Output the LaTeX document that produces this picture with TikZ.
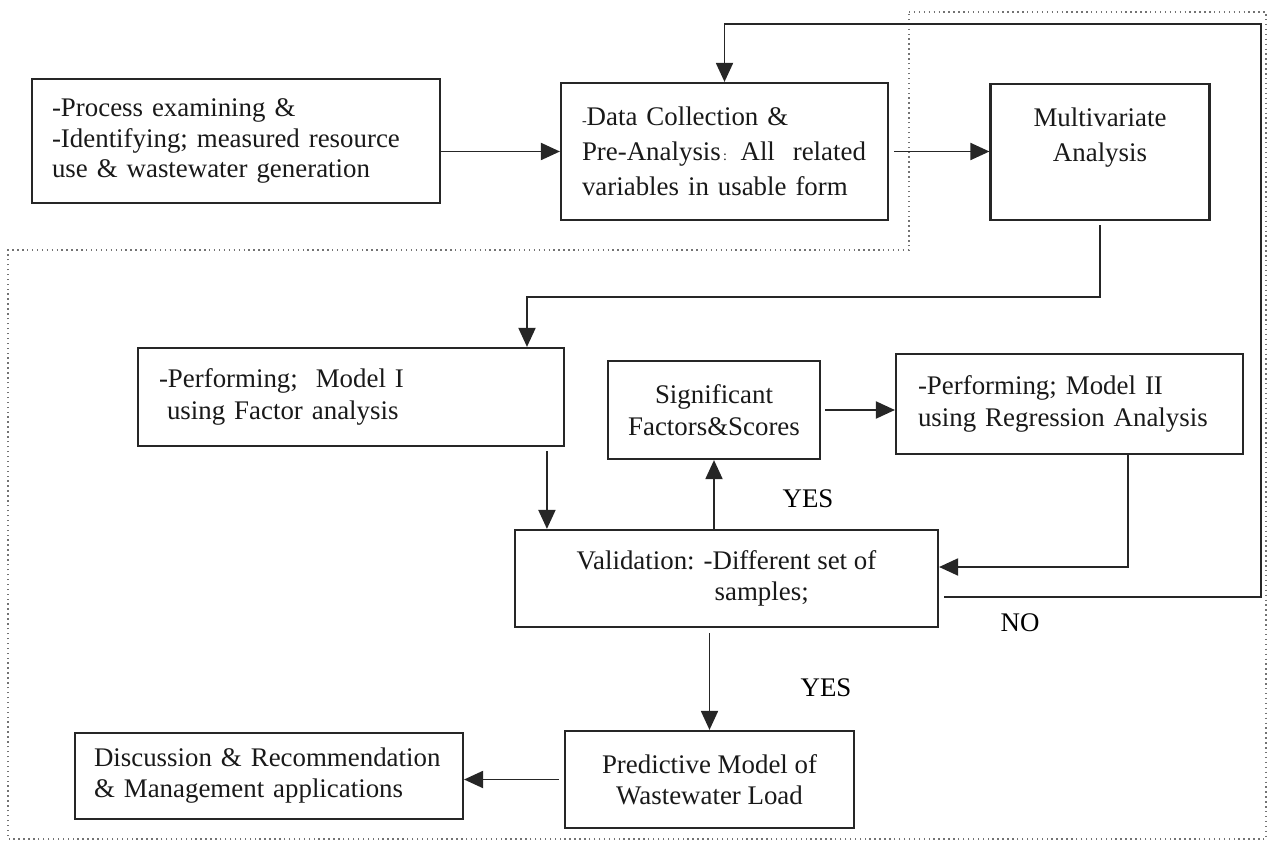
\documentclass[tikz,border=0pt]{standalone}
\usepackage{fontspec}
\setmainfont{Liberation Serif}
\usetikzlibrary{arrows.meta}

\tikzset{
  box/.style={draw=black!85, line width=1.25pt, inner ysep=0pt, text=black!90},
  flow/.style={draw=black!85, line width=1.1pt, -{Triangle[length=0.38cm,width=0.34cm]}},
  frame/.style={draw=black!55, dotted, line width=0.8pt},
}

\begin{document}
\begin{tikzpicture}[x=0.02cm,y=-0.02cm,font=\fontsize{15.3}{17.6}\selectfont]
\useasboundingbox (0,0) rectangle (1271,844);
% dotted frame
\draw[frame] (909,12) -- (1266,12) -- (1266,839) -- (8,839) -- (8,250) -- (909,250) -- cycle;

% top row
\node[box,minimum width=8.16cm,minimum height=2.48cm,text width=7.36cm,inner xsep=0.4cm,align=left] (proc) at (236,141) {-Process examining \&\\-Identifying; measured resource\\use \& wastewater generation};
\node[box,minimum width=6.54cm,minimum height=2.74cm,text width=5.7cm,inner xsep=0.42cm,align=left,font=\fontsize{15.3}{19.8}\selectfont] (data) at (724.5,151.5) {{\footnotesize -}Data Collection \&\\Pre-Analysis{\footnotesize\,:} All\ \ related\\variables in usable form};
\node[box,minimum width=4.38cm,minimum height=2.72cm,align=center,font=\fontsize{15.3}{19.8}\selectfont] (multi) at (1100,152) {Multivariate\\Analysis\\\mbox{}};

% middle row
\node[box,minimum width=8.52cm,minimum height=1.96cm,text width=7.68cm,inner xsep=0.42cm,align=left,font=\fontsize{15.3}{18.1}\selectfont] (modelone) at (351,397) {-Performing;\ \ Model I\\\hspace*{0.16cm}using Factor analysis};
\node[box,minimum width=4.24cm,minimum height=1.96cm,align=center,font=\fontsize{15.3}{18.1}\selectfont] (signif) at (714,410) {Significant\\Factors\&Scores};
\node[box,minimum width=6.94cm,minimum height=2cm,text width=6.06cm,inner xsep=0.44cm,align=left,font=\fontsize{15.3}{18.1}\selectfont] (modeltwo) at (1069.5,404) {-Performing; Model II\\using Regression Analysis};

% validation and results
\node[box,minimum width=8.46cm,minimum height=1.94cm,align=left] (valid) at (726.5,578.5) {Validation: -Different set of\\\hspace*{2.76cm}samples;};
\node[box,minimum width=5.78cm,minimum height=1.94cm,align=center] (predict) at (709.5,779.5) {Predictive Model of\\Wastewater Load};
\node[box,minimum width=7.76cm,minimum height=1.72cm,text width=7cm,inner xsep=0.38cm,align=left] (discuss) at (269,776) {Discussion \& Recommendation\\\& Management applications};

\node (yesup) at (808,499) {YES};
\node (no) at (1020,623) {NO};
\node (yesdown) at (826,688) {YES};

\coordinate (loopback) at (1261,24);
\coordinate (turn) at (527,297);
\coordinate (entry) at ([xshift=0.66cm]valid.north west);

\draw[flow] (proc.east |- data.west) -- (data.west);
\draw[flow] ([xshift=0.1cm]data.east) -- (data.east -| multi.west);
\draw[flow] ([xshift=0.1cm,yshift=-0.37cm]valid.east) -| (loopback) -| (data.north);
\draw[flow] ([yshift=-0.08cm]multi.south) |- (turn) -- (turn |- modelone.north);
\draw[flow] ([yshift=-0.08cm]modelone.south -| entry) -- (entry);
\draw[flow] (signif.south |- valid.north) -- (signif.south);
\draw[flow] ([xshift=0.08cm]signif.east) -- (signif.east -| modeltwo.west);
\draw[flow] ([xshift=1.17cm]modeltwo.south) |- ([yshift=0.23cm]valid.east);
\draw[flow] ([yshift=-0.1cm]predict.north |- valid.south) -- (predict.north);
\draw[flow] ([xshift=-0.1cm]predict.west) -- (predict.west -| discuss.east);
\end{tikzpicture}
\end{document}
